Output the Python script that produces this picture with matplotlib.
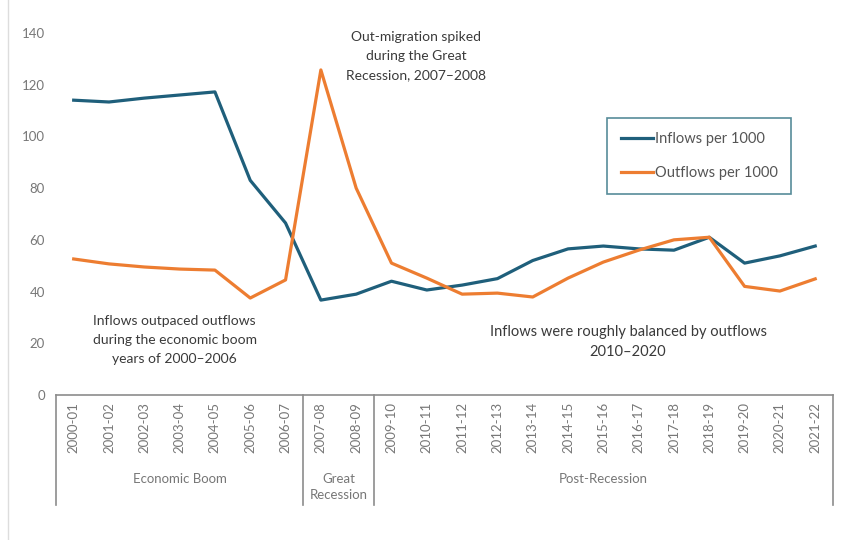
import numpy as np
import matplotlib
matplotlib.use("Agg")
import matplotlib.pyplot as plt
from matplotlib.lines import Line2D

plt.rcParams['font.family'] = ['Lato', 'DejaVu Sans']

# school years on the x axis
years = ["2000-01", "2001-02", "2002-03", "2003-04", "2004-05", "2005-06", "2006-07",
         "2007-08", "2008-09", "2009-10", "2010-11", "2011-12", "2012-13", "2013-14",
         "2014-15", "2015-16", "2016-17", "2017-18", "2018-19", "2019-20", "2020-21",
         "2021-22"]

inflows = [114.0, 113.3, 114.8, 116.0, 117.2, 83.0, 66.5, 36.7, 39.0, 44.0, 40.6,
           42.5, 45.0, 52.0, 56.5, 57.6, 56.5, 56.0, 61.0, 51.0, 53.8, 57.6]
outflows = [52.6, 50.7, 49.5, 48.7, 48.3, 37.5, 44.5, 125.7, 80.0, 51.0, 45.2,
            39.0, 39.4, 37.9, 45.2, 51.4, 56.0, 60.0, 61.0, 42.0, 40.2, 44.9]

# groups under the year labels: (name, first index, last index)
groups = [("Economic Boom", 0, 6), ("Great\nRecession", 7, 8), ("Post-Recession", 9, 21)]

yticks = [0, 20, 40, 60, 80, 100, 120, 140]

c_in = "#1f5f7b"
c_out = "#ed7d31"
grey = "#8c8c8c"
txt = "#3a3a3a"

fig = plt.figure(figsize=(8.49, 5.40), dpi=100)
ax = fig.add_axes([0.066, 0.2685, 0.915, 0.6705])

x = np.arange(len(years))
ax.plot(x, inflows, color=c_in, lw=2.3, label="Inflows per 1000")
ax.plot(x, outflows, color=c_out, lw=2.3, label="Outflows per 1000")

ax.set_xlim(-0.5, len(years) - 0.5)
ax.set_ylim(0, 140)
ax.set_yticks(yticks)
ax.set_xticks(x)
ax.set_xticklabels(years, rotation=90, va="top")
ax.tick_params(axis="x", length=0, pad=5, labelsize=9.5, colors="#777777")
ax.tick_params(axis="y", length=0, pad=8, labelsize=9.5, colors="#777777")

for s in ["top", "right", "left"]:
    ax.spines[s].set_visible(False)
ax.spines["bottom"].set_color(grey)
ax.spines["bottom"].set_linewidth(1.2)

# multi level category box under the axis
tr = ax.get_xaxis_transform()
bottom = -0.305
for name, a, b in groups:
    ax.add_line(Line2D([a - 0.5, a - 0.5], [0, bottom], transform=tr, color=grey,
                       lw=1.2, clip_on=False))
    ax.text((a + b) / 2, -0.215, name, transform=tr, ha="center", va="top",
            fontsize=9.5, color="#777777", linespacing=1.4)
ax.add_line(Line2D([len(years) - 0.5] * 2, [0, bottom], transform=tr, color=grey,
                   lw=1.2, clip_on=False))

# notes on the chart
ax.text(9.69, 140.6, "Out-migration spiked\nduring the Great\nRecession, 2007\u20132008",
        ha="center", va="top", fontsize=10, color=txt, linespacing=1.68, clip_on=False)
ax.text(2.86, 30.9, "Inflows outpaced outflows\nduring the economic boom\nyears of 2000\u20132006",
        ha="center", va="top", fontsize=10, color=txt, linespacing=1.68)
ax.text(15.7, 27.0, "Inflows were roughly balanced by outflows\n2010\u20132020",
        ha="center", va="top", fontsize=10.5, color=txt, linespacing=1.55)

leg = ax.legend(loc="upper left", bbox_to_anchor=(0.7, 0.785), fontsize=10.5,
                frameon=True, fancybox=False, handlelength=2.2, handletextpad=0.1,
                labelspacing=1.4, borderpad=0.95, labelcolor="#555555")
leg.get_frame().set_edgecolor("#2d6f80")
leg.get_frame().set_linewidth(1.2)

# faint border on the left of the picture
fig.add_artist(Line2D([0.01, 0.01], [0, 1], transform=fig.transFigure, color="#dddddd", lw=1))

fig.savefig("out.png", dpi=100)
